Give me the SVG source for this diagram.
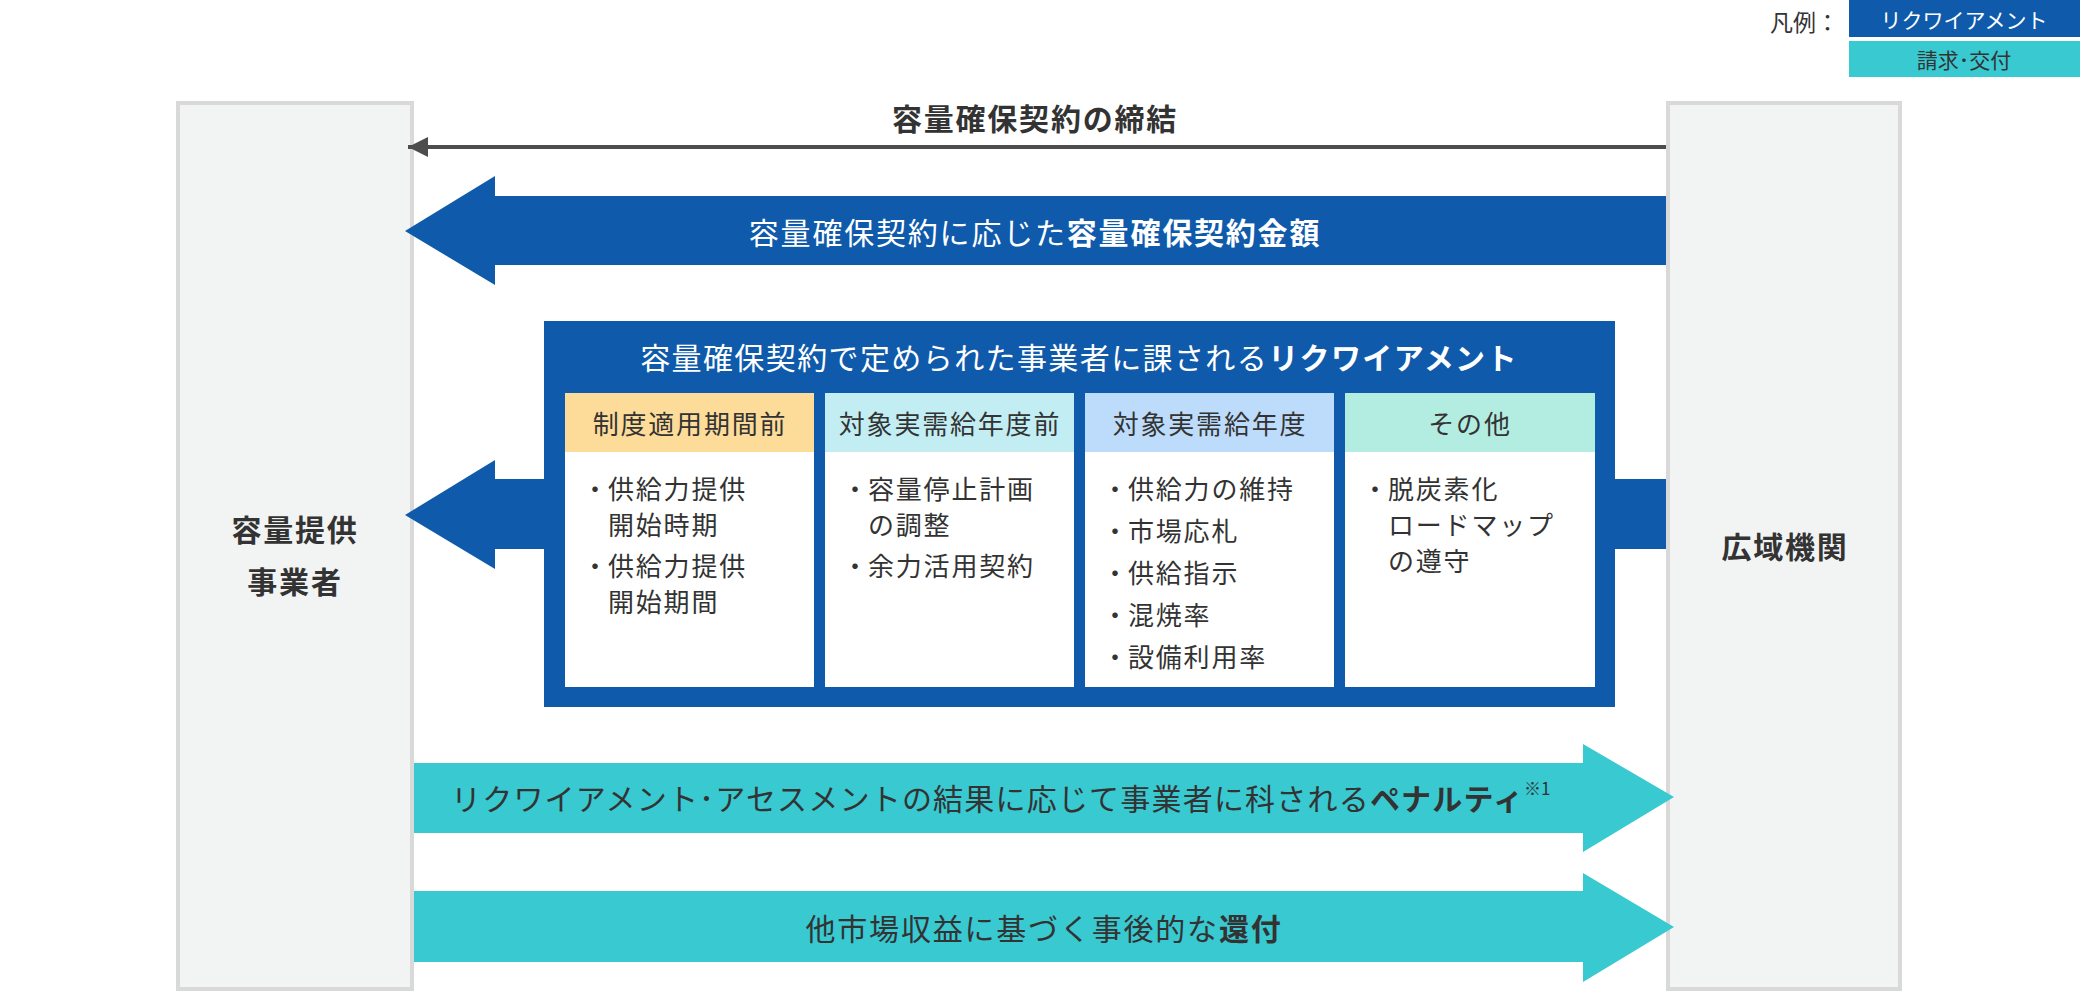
<svg xmlns="http://www.w3.org/2000/svg" width="2080" height="993" viewBox="0 0 2080 993">
<style>
text{font-family:"Noto Sans CJK JP","Noto Sans CJK SC",sans-serif;fill:#333;}
.w{fill:#fff;}
.b{font-weight:bold;}
.lbl{font-size:30px;letter-spacing:1.8px;dominant-baseline:central;}
.hd{font-size:26px;letter-spacing:1.8px;text-anchor:middle;dominant-baseline:central;}
.it{font-size:26px;letter-spacing:1.8px;dominant-baseline:central;}
.lg{font-size:21px;dominant-baseline:central;}
.box{fill:#f2f3f3;stroke:#d9d9d9;stroke-width:4;}
.blue{fill:#0f5aab;}
.teal{fill:#38c9d1;}
</style>
<defs>
<marker id="ah" viewBox="0 0 10 10" refX="10" refY="5" markerWidth="5" markerHeight="5" orient="auto-start-reverse" markerUnits="strokeWidth">
<path d="M0,0 L10,5 L0,10 z" fill="#4d4d4d"/>
</marker>
</defs>

<g id="legend">
<text class="lg" x="1770" y="21" style="font-size:23px">凡例：</text>
<rect class="blue" x="1849" y="0" width="231" height="37"/>
<text class="lg w" x="1964" y="19" text-anchor="middle">リクワイアメント</text>
<rect class="teal" x="1849" y="41" width="231" height="36"/>
<text class="lg" x="1964" y="59" text-anchor="middle">請求･交付</text>
</g>

<g id="provider">
<rect class="box" x="178" y="103" width="234" height="886"/>
<text class="lbl b" x="295" y="528" text-anchor="middle">容量提供</text>
<text class="lbl b" x="295" y="580" text-anchor="middle">事業者</text>
</g>

<g id="occto">
<rect class="box" x="1668" y="103" width="232" height="886"/>
<text class="lbl b" x="1785" y="545" text-anchor="middle">広域機関</text>
</g>

<g id="connectors">
<line x1="1666" y1="147" x2="408" y2="147" stroke="#4d4d4d" stroke-width="4" marker-end="url(#ah)"/>
<text class="lbl b" x="1035" y="117" text-anchor="middle">容量確保契約の締結</text>

<polygon class="blue" points="1666,196 495,196 495,176 405,231 495,285 495,265 1666,265"/>
<text class="lbl w" x="1035" y="231" text-anchor="middle">容量確保契約に応じた<tspan class="b">容量確保契約金額</tspan></text>

<polygon class="blue" points="546,479 495,479 495,460 405,515 495,569 495,549 546,549"/>
<rect class="blue" x="1613" y="479" width="53" height="70"/>

<polygon class="teal" points="414,763 1583,763 1583,744 1674,797 1583,852 1583,833 414,833"/>
<text class="lbl" x="451" y="797" style="letter-spacing:1.2px">リクワイアメント･アセスメントの結果に応じて事業者に科される<tspan class="b">ペナルティ</tspan><tspan style="font-size:17px;letter-spacing:0" dy="-10">※1</tspan></text>

<polygon class="teal" points="414,891 1583,891 1583,873 1674,927 1583,982 1583,962 414,962"/>
<text class="lbl" x="1044" y="927" text-anchor="middle">他市場収益に基づく事後的な<tspan class="b">還付</tspan></text>
</g>

<g id="requirements">
<rect class="blue" x="544" y="321" width="1071" height="386"/>
<text class="lbl w" x="1079" y="356" text-anchor="middle" style="letter-spacing:1.4px">容量確保契約で定められた事業者に課される<tspan class="b">リクワイアメント</tspan></text>

<g id="col1">
<rect x="565" y="393" width="249" height="59" fill="#fddc9a"/>
<rect x="565" y="452" width="249" height="235" fill="#fff"/>
<text class="hd" x="690" y="422">制度適用期間前</text>
<text class="it"><tspan x="582" y="487">・</tspan><tspan x="608" y="487">供給力提供</tspan><tspan x="608" y="523">開始時期</tspan><tspan x="582" y="564">・</tspan><tspan x="608" y="564">供給力提供</tspan><tspan x="608" y="600">開始期間</tspan></text>
</g>

<g id="col2">
<rect x="825" y="393" width="249" height="59" fill="#c2eef3"/>
<rect x="825" y="452" width="249" height="235" fill="#fff"/>
<text class="hd" x="950" y="422">対象実需給年度前</text>
<text class="it"><tspan x="842" y="487">・</tspan><tspan x="868" y="487">容量停止計画</tspan><tspan x="868" y="523">の調整</tspan><tspan x="842" y="564">・</tspan><tspan x="868" y="564">余力活用契約</tspan></text>
</g>

<g id="col3">
<rect x="1085" y="393" width="249" height="59" fill="#bddcfb"/>
<rect x="1085" y="452" width="249" height="235" fill="#fff"/>
<text class="hd" x="1210" y="422">対象実需給年度</text>
<text class="it"><tspan x="1102" y="487">・</tspan><tspan x="1128" y="487">供給力の維持</tspan><tspan x="1102" y="529">・</tspan><tspan x="1128" y="529">市場応札</tspan><tspan x="1102" y="571">・</tspan><tspan x="1128" y="571">供給指示</tspan><tspan x="1102" y="613">・</tspan><tspan x="1128" y="613">混焼率</tspan><tspan x="1102" y="655">・</tspan><tspan x="1128" y="655">設備利用率</tspan></text>
</g>

<g id="col4">
<rect x="1345" y="393" width="250" height="59" fill="#b3ece0"/>
<rect x="1345" y="452" width="250" height="235" fill="#fff"/>
<text class="hd" x="1470" y="422">その他</text>
<text class="it"><tspan x="1362" y="487">・</tspan><tspan x="1388" y="487">脱炭素化</tspan><tspan x="1388" y="523">ロードマップ</tspan><tspan x="1388" y="559">の遵守</tspan></text>
</g>
</g>
</svg>
